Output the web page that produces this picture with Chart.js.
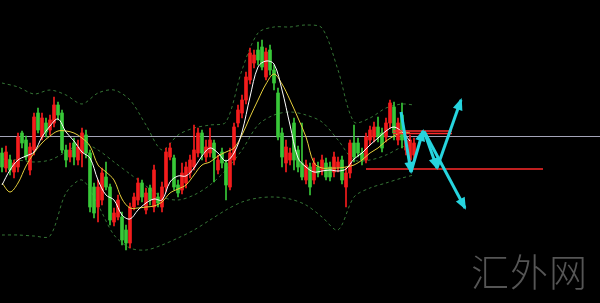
<!DOCTYPE html>
<html>
<head>
<meta charset="utf-8">
<script src="https://cdn.jsdelivr.net/npm/chart.js@4"></script>
<style>
  html, body { margin: 0; padding: 0; background: #000; }
  #wrap { position: relative; width: 600px; height: 303px; background: #000; }
  #mark { position: absolute; left: 471px; top: 248px; font-family: "Noto Sans CJK SC", sans-serif; font-size: 38px; font-weight: 300; line-height: 44px; color: #555; letter-spacing: 1px; }
</style>
</head>
<body>
<div id="wrap">
  <canvas id="chart" width="600" height="303"></canvas>
  <div id="mark">汇外网</div>
</div>
<script>
// candle data (price units), one entry per bar
const opens = [147,132,140,128,133,167,160,130,150,187, 163,177,170,177,195,187,150,143,157,140,
  147,165,147,113,93,100,123,113,78,83, 83,70,57,93,100,117,90,112,93,103,
  93,113,143,142,115,110,117,127,133,147, 167,143,147,157,130,148,137,113,140,177,
  187,200,220,237,250,253,223,250,230,207, 167,137,140,177,150,137,120,133,120,133,
  130,137,133,128,133,140,113,127,157,157, 147,140,160,163,173,167,163,177,193,160,
  185,150,140,145];
const highs = [152,154,145,140,167,169,164,157,187,192, 187,182,185,203,198,190,155,157,162,160,
  172,170,150,117,120,132,138,116,92,105, 88,75,97,107,122,120,112,115,135,107,
  118,152,157,145,120,137,138,145,175,172, 170,160,172,160,145,152,140,152,177,195,
  205,228,252,250,258,260,252,255,235,212, 172,160,152,182,154,177,140,137,142,138,
  145,142,138,148,143,144,132,160,175,162, 152,167,174,178,183,172,182,200,198,182,
  197,165,165,162];
const lows = [128,128,125,122,128,152,140,125,145,167, 160,163,165,173,180,147,133,138,135,135,
  133,142,88,82,78,95,110,75,74,80, 55,50,52,90,95,98,86,95,88,93,
  88,108,140,110,103,106,112,122,130,143, 140,138,143,118,126,132,100,110,135,173,
  182,196,216,232,235,230,220,225,210,160, 133,128,135,130,128,120,116,105,116,123,
  125,120,119,123,128,116,93,122,138,143, 135,137,155,158,158,148,158,172,160,155,
  152,145,132,140];
const closes = [133,148,130,137,163,157,143,153,183,170, 182,168,180,195,185,150,140,150,143,153,
  167,147,93,87,113,127,113,80,87,100, 60,57,93,103,117,103,107,100,130,97,
  113,148,152,113,107,127,133,140,150,167, 147,153,160,142,140,137,115,147,173,190,
  200,223,247,245,240,233,248,230,217,163, 143,153,147,140,133,123,135,113,137,127,
  140,123,123,143,138,120,127,157,143,147, 140,163,170,173,163,152,177,197,167,177,
  160,160,160,157];

// moving averages, every second bar
const maIdx = [0,2,4,6,8,10,12,14,16,18, 20,22,24,26,28,30,32,34,36,38,
  40,42,44,46,48,50,52,54,56,58, 60,62,64,66,68,70,72,74,76,78,
  80,82,84,86,88,90,92,94,96,98, 100,102];
const maFast = [115,130,140,144,148,163,174,181,168,159, 148,142,120,105,100,85,81,90,97,101,
  100,118,124,124,132,144,152,147,139,147, 168,203,233,239,236,210,175,142,133,128,
  129,130,129,131,141,147,155,162,169,173, 168,159];
const maSlow = [117,108,117,134,147,157,164,169,169,167, 162,154,135,128,120,101,92,92,93,94,
  98,107,111,115,125,135,138,144,148,152, 165,183,200,216,226,216,200,182,163,137,
  132,132,132,133,135,140,147,152,159,164, 168,167];

// bollinger bands, every fourth bar
const bandIdx = [0,4,8,12,16,20,24,28,32,36, 40,44,48,52,56,60,64,68,72,76, 80,84,88,92,96,100,103];
const bandUpper = [217,213,206,210,205,196,207,210,200,175, 150,165,172,175,178,230,267,273,273,275, 272,230,178,182,192,196,195];
const bandMid = [141,140,138,140,148,157,150,138,126,114, 103,100,105,115,130,150,175,185,188,185, 178,160,140,140,145,153,156];
const bandLower = [65,65,64,64,107,120,95,65,52,50, 55,62,70,80,90,98,102,103,101,95, 83,70,103,112,117,122,125];

// horizontal levels: price, from bar, to bar
const levelPrice = [163.5, 131, 169, 166.5];
const levelFrom = [-0.5, 91, 97.75, 97.75];
const levelTo = [149.5, 135.25, 112.5, 112.5];
const levelColor = ['#a4a4b8', '#ff2a2a', '#ff2a2a', '#ff2a2a'];
const levelWidth = [1, 1.6, 1.6, 1.6];

// drawn arrows: start bar/price, end bar/price
const arrowX0 = [99.75, 102.25, 105.5, 108.75, 105.75];
const arrowY0 = [188, 128, 169, 132, 167];
const arrowX1 = [102.25, 105.25, 108.75, 114.75, 115.75];
const arrowY1 = [128, 169, 132, 200, 92];

const upColor = '#f41c1c';
const downColor = '#38c838';
const bandColor = '#357535';
const arrowColor = '#26d4de';

const barIdx = opens.map((o, i) => i);
const candleColors = opens.map((o, i) => closes[i] >= o ? upColor : downColor);

function lineSet(xs, ys, color, extra) {
  return Object.assign({
    type: 'line',
    data: xs.map((x, k) => ({ x: x, y: ys[k] })),
    borderColor: color,
    borderWidth: 1,
    pointRadius: 0,
    fill: false,
    tension: 0
  }, extra);
}

const datasets = [];

// bands
[bandUpper, bandMid, bandLower].forEach(b => {
  datasets.push(lineSet(bandIdx, b, bandColor, { borderDash: [3, 3], tension: 0.3, order: 10 }));
});

// levels
levelPrice.forEach((p, k) => {
  datasets.push(lineSet([levelFrom[k], levelTo[k]], [p, p], levelColor[k], { borderWidth: levelWidth[k], order: k === 0 ? 9 : 4 }));
});

// candles: wicks then bodies
datasets.push({
  type: 'bar',
  data: barIdx.map(i => ({ x: i, y: [lows[i], highs[i]] })),
  backgroundColor: candleColors,
  barThickness: 1,
  grouped: false,
  order: 8
});
datasets.push({
  type: 'bar',
  data: barIdx.map(i => ({ x: i, y: [opens[i], closes[i]] })),
  backgroundColor: candleColors,
  barThickness: 3,
  minBarLength: 1,
  grouped: false,
  order: 7
});

// moving averages
datasets.push(lineSet(maIdx, maSlow, '#e6cf3c', { tension: 0.35, order: 6 }));
datasets.push(lineSet(maIdx, maFast, '#ffffff', { tension: 0.35, order: 5 }));

// arrows
arrowX0.forEach((x, k) => {
  datasets.push(lineSet([x, arrowX1[k]], [arrowY0[k], arrowY1[k]], arrowColor, { borderWidth: 3, order: 1, isArrow: true }));
});

// draw arrow heads at the end of each arrow line
const arrowHeads = {
  id: 'arrowHeads',
  afterDatasetsDraw(chart) {
    const ctx = chart.ctx;
    const xs = chart.scales.x, ys = chart.scales.y;
    chart.data.datasets.forEach(ds => {
      if (!ds.isArrow) return;
      const a = ds.data[0], b = ds.data[1];
      const x0 = xs.getPixelForValue(a.x), y0 = ys.getPixelForValue(a.y);
      const x1 = xs.getPixelForValue(b.x), y1 = ys.getPixelForValue(b.y);
      const ang = Math.atan2(y1 - y0, x1 - x0);
      const len = 10, half = 5;
      ctx.save();
      ctx.fillStyle = arrowColor;
      ctx.beginPath();
      ctx.moveTo(x1 + Math.cos(ang) * 2, y1 + Math.sin(ang) * 2);
      ctx.lineTo(x1 - Math.cos(ang) * len - Math.sin(ang) * half, y1 - Math.sin(ang) * len + Math.cos(ang) * half);
      ctx.lineTo(x1 - Math.cos(ang) * len + Math.sin(ang) * half, y1 - Math.sin(ang) * len - Math.cos(ang) * half);
      ctx.closePath();
      ctx.fill();
      ctx.restore();
    });
  }
};

new Chart(document.getElementById('chart').getContext('2d'), {
  type: 'bar',
  data: { datasets: datasets },
  options: {
    responsive: false,
    animation: false,
    devicePixelRatio: 1,
    layout: { padding: 0 },
    plugins: { legend: { display: false }, tooltip: { enabled: false } },
    scales: {
      x: { type: 'linear', min: -0.5, max: 149.5, offset: false, display: false },
      y: { type: 'linear', min: -3, max: 300, display: false }
    }
  },
  plugins: [arrowHeads]
});
</script>
</body>
</html>
